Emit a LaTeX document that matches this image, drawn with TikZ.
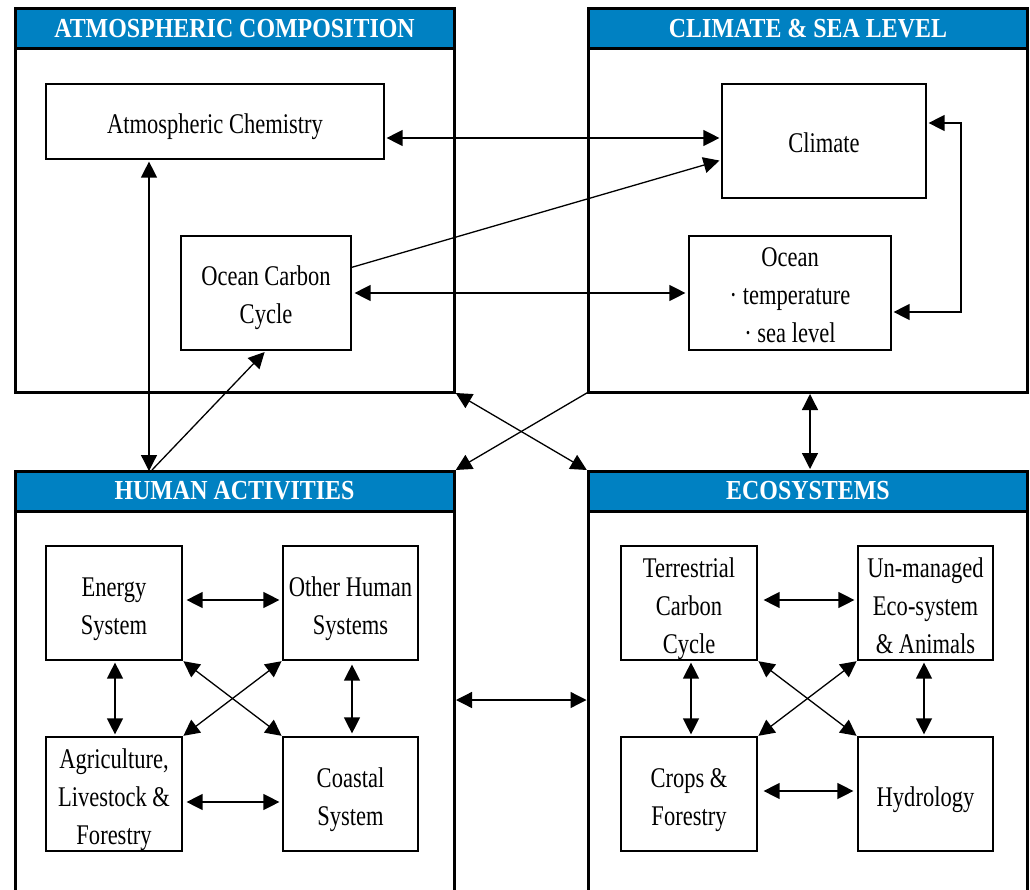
\documentclass[tikz,border=0pt]{standalone}
\usepackage{fontspec}
\usepackage{array}
\setmainfont{Liberation Serif}[FakeStretch=0.79]
\newfontfamily\hdrfont{Liberation Serif}[FakeStretch=0.87]
\usetikzlibrary{arrows.meta}
\definecolor{hdrblue}{RGB}{0,129,194}
\newcommand\linestrut{\rule[-7pt]{0pt}{38pt}}
\newcommand\bt[1]{{\renewcommand\arraystretch{0}\begin{tabular}{@{}>{\linestrut}c@{}}#1\end{tabular}}}
\begin{document}
\begin{tikzpicture}[x=1pt,y=-1pt,
  panel/.style={draw, line width=3pt, minimum width=439pt, minimum height=383pt, inner sep=0pt, outer sep=0pt},
  tallpanel/.style={panel, minimum height=440pt},
  hdr/.style={draw, fill=hdrblue, line width=3pt, minimum width=439pt, minimum height=40pt, inner sep=0pt, outer sep=0pt, text=white, font=\hdrfont\fontsize{27.5}{30}\selectfont\bfseries},
  box/.style={draw, line width=1.2pt, inner sep=0pt, font=\fontsize{28.5}{38}\selectfont},
  tip/.tip={Triangle[length=16pt,width=16pt]},
  conn/.style={line width=1.3pt, -tip, shorten >=2pt},
  dbl/.style={line width=1.3pt, tip-tip, shorten >=2pt, shorten <=2pt}]
\useasboundingbox (0,0) rectangle (1030,890);
\clip (0,0) rectangle (1030,890);

% panels
\node[panel] (atm) at (234.5,200.5) {};
\node[panel] (clim) at (808,200.5) {};
\node[tallpanel] (hum) at (234.5,691) {};
\node[tallpanel] (eco) at (808,691) {};
\node[hdr, anchor=north] (atmh) at (atm.north) {ATMOSPHERIC COMPOSITION};
\node[hdr, anchor=north] (climh) at (clim.north) {CLIMATE \& SEA LEVEL};
\node[hdr, anchor=north] (humh) at (hum.north) {HUMAN ACTIVITIES};
\node[hdr, anchor=north] (ecoh) at (eco.north) {ECOSYSTEMS};

% top nodes
\node[box, minimum width=338pt, minimum height=75pt] (chem) at (215,121.5) {\bt{Atmospheric Chemistry}};
\node[box, minimum width=204pt, minimum height=114pt] (climate) at (824,141) {\bt{Climate}};
\node[box, minimum width=170pt, minimum height=114pt] (occ) at (266,293) {\bt{Ocean Carbon\\Cycle}};
\node[box, minimum width=202pt, minimum height=114pt] (ocean) at (790,293) {\bt{Ocean\\· temperature\\· sea level}};

% human activities nodes
\node[box, minimum width=136pt, minimum height=114pt] (energy) at (114,603) {\bt{Energy\\System}};
\node[box, minimum width=135pt, minimum height=114pt] (other) at (350.5,603) {\bt{Other Human\\Systems}};
\node[box, minimum width=136pt, minimum height=114pt] (agri) at (114,794) {\bt{Agriculture,\\Livestock \&\\Forestry}};
\node[box, minimum width=135pt, minimum height=114pt] (coastal) at (350.5,794) {\bt{Coastal\\System}};

% ecosystem nodes
\node[box, minimum width=136pt, minimum height=114pt] (terr) at (689,603) {\bt{Terrestrial\\Carbon\\Cycle}};
\node[box, minimum width=135pt, minimum height=114pt] (unman) at (925.5,603) {\bt{Un-managed\\Eco-system\\\& Animals}};
\node[box, minimum width=136pt, minimum height=114pt] (crops) at (689,794) {\bt{Crops \&\\Forestry}};
\node[box, minimum width=135pt, minimum height=114pt] (hydro) at (925.5,794) {\bt{Hydrology}};

% helper coordinates
\coordinate (ch) at (0,138);
\coordinate (hv) at (149,0);
\coordinate (hs) at (152,470);
\coordinate (cv) at (810,0);
\coordinate (he) at (0,700);
\coordinate (lx) at (961,0);
\coordinate (o1) at ([yshift=-19pt]ocean.east);
\coordinate (c1) at ([yshift=18pt]climate.east);

% top connectors
\draw[dbl] (chem.east |- ch) -- (climate.west |- ch);
\draw[conn] ([yshift=-32pt]occ.north east) -- ([yshift=-19pt]climate.west);
\draw[dbl, shorten <=3pt, shorten >=3pt] (occ.east) -- (ocean.west);
\draw[dbl] (o1) -- (o1 -| lx) -- (c1 -| lx) -- (c1);
\draw[dbl, shorten >=0pt] (chem.south -| hv) -- (humh.north -| hv);
\draw[conn] (hs) -- (occ.south);

% between panels
\draw[dbl] (atm.south east) -- (ecoh.north west);
\draw[conn] (clim.south west) -- (humh.north east);
\draw[dbl] (clim.south -| cv) -- (ecoh.north -| cv);
\draw[dbl] (hum.east |- he) -- (eco.west |- he);

% human activities connectors
\draw[dbl, shorten <=4pt, shorten >=3pt] ([yshift=3pt]energy.east) -- ([yshift=3pt]other.west);
\draw[dbl, shorten <=4pt, shorten >=3pt] ([yshift=-8pt]agri.east) -- ([yshift=-8pt]coastal.west);
\draw[dbl] ([xshift=1pt]energy.south) -- ([xshift=1pt]agri.north);
\draw[dbl, shorten <=4pt, shorten >=3pt] ([xshift=1.5pt]other.south) -- ([xshift=1.5pt]coastal.north);
\draw[dbl, shorten <=1pt, shorten >=1pt] (energy.south east) -- (coastal.north west);
\draw[dbl, shorten <=1pt, shorten >=1pt] (other.south west) -- (agri.north east);

% ecosystem connectors
\draw[dbl, shorten <=6pt, shorten >=3pt] ([yshift=3pt]terr.east) -- ([yshift=3pt]unman.west);
\draw[dbl, shorten <=6pt, shorten >=4pt] ([yshift=3pt]crops.east) -- ([yshift=3pt]hydro.west);
\draw[dbl] ([xshift=2pt]terr.south) -- ([xshift=2pt]crops.north);
\draw[dbl] ([xshift=-1.5pt]unman.south) -- ([xshift=-1.5pt]hydro.north);
\draw[dbl, shorten <=1pt, shorten >=1pt] (terr.south east) -- (hydro.north west);
\draw[dbl, shorten <=1pt, shorten >=1pt] (unman.south west) -- (crops.north east);
\end{tikzpicture}
\end{document}
